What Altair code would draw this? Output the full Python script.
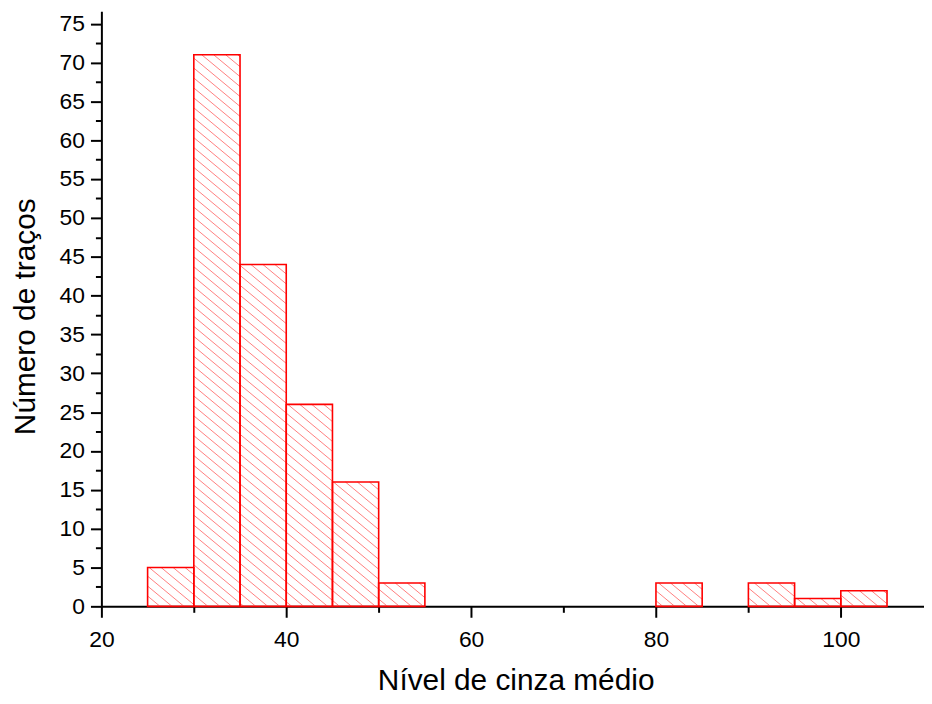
import altair as alt
import pandas as pd
import numpy as np

# ---- data ----
bin_start = [25, 30, 35, 40, 45, 50, 80, 90, 95, 100]
counts = [5, 71, 44, 26, 16, 3, 3, 3, 1, 2]
bin_width = 5

x_ticks = [20, 30, 40, 50, 60, 70, 80, 90, 100]
y_ticks = [v * 2.5 for v in range(0, 31)]

X_MIN, X_MAX = 20, 109
Y_MIN, Y_MAX = 0, 76.6
W, H = 828, 599

bars = pd.DataFrame({
    "x0": bin_start,
    "x1": [b + bin_width for b in bin_start],
    "count": counts,
})

# ---- hatching (decoration derived from the bars, clipped to each bar) ----
kx = W / (X_MAX - X_MIN)
ky = H / (Y_MAX - Y_MIN)
slope = 0.83       # pixel slope of hatch lines (down-right)
sv = 10.0          # vertical spacing in px
rows = []
for x0, x1, c in zip(bars.x0, bars.x1, bars["count"]):
    px0, px1 = (x0 - X_MIN) * kx, (x1 - X_MIN) * kx
    ptop, pbot = (Y_MAX - c) * ky, (Y_MAX - 0) * ky
    cmin = ptop - slope * px1
    cmax = pbot - slope * px0
    k0 = int(np.floor(cmin / sv))
    k1 = int(np.ceil(cmax / sv))
    for k in range(k0, k1 + 1):
        cc = k * sv
        a = max(px0, (ptop - cc) / slope)
        b = min(px1, (pbot - cc) / slope)
        if b - a > 0.5:
            ya, yb = slope * a + cc, slope * b + cc
            rows.append({
                "hx": a / kx + X_MIN, "hx2": b / kx + X_MIN,
                "hy": Y_MAX - ya / ky, "hy2": Y_MAX - yb / ky,
            })
hatch = pd.DataFrame(rows)

FONT = "Liberation Sans"
xscale = alt.Scale(domain=[X_MIN, X_MAX], nice=False, zero=False)
yscale = alt.Scale(domain=[Y_MIN, Y_MAX], nice=False, zero=False)

x_axis = alt.Axis(
    values=x_ticks,
    labelExpr="datum.value % 20 === 0 ? datum.label : ''",
    tickSize={"condition": {"test": "datum.value % 20 === 0", "value": 11}, "value": 6},
    tickWidth=2, tickColor="black",
    domainColor="black", domainWidth=2,
    labelFont=FONT, labelFontSize=23, labelColor="black", labelPadding=11,
    labelOverlap=False, labelFlush=False,
    grid=False,
    title="Nível de cinza médio",
    titleFont=FONT, titleFontSize=30, titleFontWeight="normal", titleColor="black",
    titleX=417, titleY=84, titleAlign="center", titleBaseline="alphabetic",
    titleAnchor="start",
)
y_axis = alt.Axis(
    values=y_ticks,
    labelExpr="datum.value % 5 === 0 ? datum.label : ''",
    tickSize={"condition": {"test": "datum.value % 5 === 0", "value": 11}, "value": 6},
    tickWidth=2, tickColor="black",
    domainColor="black", domainWidth=2,
    labelFont=FONT, labelFontSize=23, labelColor="black", labelPadding=6,
    labelOverlap=False, labelFlush=False,
    grid=False,
    title="Número de traços",
    titleFont=FONT, titleFontSize=30, titleFontWeight="normal", titleColor="black",
    titleX=-67, titleY=307, titleAlign="center", titleBaseline="alphabetic",
    titleAngle=270, titleAnchor="start",
)

hatch_layer = alt.Chart(hatch).mark_rule(stroke="#ff8080", strokeWidth=1).encode(
    x=alt.X("hx:Q", scale=xscale, axis=x_axis),
    x2="hx2:Q",
    y=alt.Y("hy:Q", scale=yscale, axis=y_axis),
    y2="hy2:Q",
)

bar_layer = alt.Chart(bars).mark_rect(
    fillOpacity=0, stroke="#ff0000", strokeWidth=1.6
).encode(
    x=alt.X("x0:Q", scale=xscale, axis=x_axis),
    x2="x1:Q",
    y=alt.Y("count:Q", scale=yscale, axis=y_axis),
    y2=alt.datum(0),
)

chart = alt.layer(hatch_layer, bar_layer).properties(
    width=W, height=H,
    autosize=alt.AutoSizeParams(type="none"),
    padding={"left": 94, "top": 1, "right": 0, "bottom": 88},
    background="white",
).configure_view(stroke=None)

chart.save("out.html", embed_options={"renderer": "svg", "actions": False})
